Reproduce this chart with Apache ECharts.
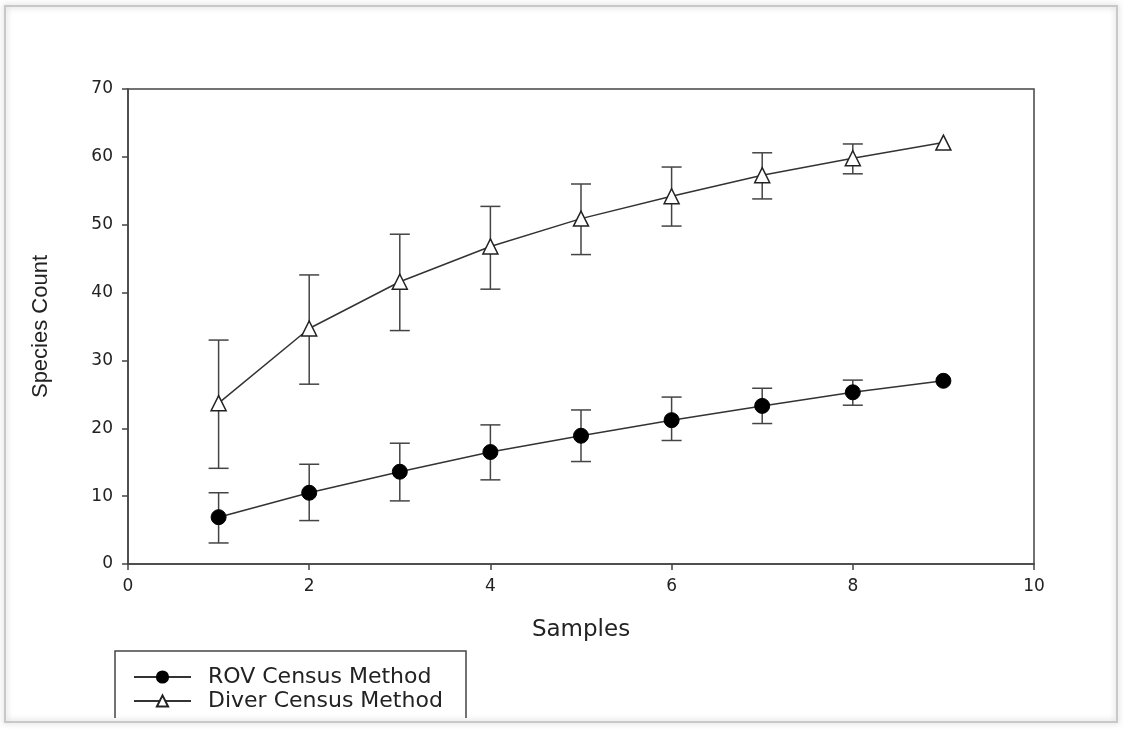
<!DOCTYPE html>
<html>
<head>
<meta charset="utf-8">
<script src="https://cdn.jsdelivr.net/npm/echarts@6/dist/echarts.min.js"></script>
<style>
  html, body { margin: 0; padding: 0; background: #fff; }
  #chart { width: 1123px; height: 737px; }
</style>
</head>
<body>
<div id="chart"></div>
<script>
// values
const samples = [1, 2, 3, 4, 5, 6, 7, 8, 9]
const rovMean = [6.9, 10.5, 13.6, 16.5, 18.9, 21.2, 23.3, 25.3, 27.0]
const rovLow = [3.1, 6.4, 9.3, 12.4, 15.1, 18.2, 20.7, 23.4, null]
const rovHigh = [10.5, 14.7, 17.8, 20.5, 22.7, 24.6, 25.9, 27.1, null]
const diverMean = [23.7, 34.7, 41.6, 46.8, 50.9, 54.2, 57.3, 59.8, 62.1]
const diverLow = [14.1, 26.5, 34.4, 40.5, 45.6, 49.8, 53.8, 57.5, null]
const diverHigh = [33.0, 42.6, 48.6, 52.7, 56.0, 58.5, 60.6, 61.9, null]
const yTicks = [0, 10, 20, 30, 40, 50, 60, 70]
const xTicks = [0, 2, 4, 6, 8, 10]

const pairs = (a) => samples.map((s, i) => [s, a[i]])
const errRows = (lo, hi) => samples
  .map((s, i) => [s, lo[i], hi[i]])
  .filter(r => r[1] != null)

const axisColor = '#444'
const wide = '"DejaVu Sans", "Liberation Sans", Arial, sans-serif'
const plain = '"Liberation Sans", Arial, sans-serif'

function errorBar(params, api) {
  const x = api.value(0)
  const lo = api.coord([x, api.value(1)])
  const hi = api.coord([x, api.value(2)])
  const cap = 10
  const style = { stroke: axisColor, lineWidth: 1.5 }
  return {
    type: 'group',
    children: [
      { type: 'line', shape: { x1: lo[0], y1: lo[1], x2: hi[0], y2: hi[1] }, style },
      { type: 'line', shape: { x1: lo[0] - cap, y1: lo[1], x2: lo[0] + cap, y2: lo[1] }, style },
      { type: 'line', shape: { x1: hi[0] - cap, y1: hi[1], x2: hi[0] + cap, y2: hi[1] }, style }
    ]
  }
}

const chart = echarts.init(document.getElementById('chart'), null, { renderer: 'canvas' })
chart.setOption({
  backgroundColor: '#fff',
  animation: false,
  grid: {
    left: 128,
    right: 89,
    top: 89,
    bottom: 173,
    show: true,
    borderColor: axisColor,
    borderWidth: 1.5
  },
  xAxis: {
    type: 'value',
    min: xTicks[0],
    max: xTicks[xTicks.length - 1],
    interval: 2,
    name: 'Samples',
    nameLocation: 'middle',
    nameGap: 55,
    nameTextStyle: { fontFamily: wide, fontSize: 23, color: '#222' },
    axisLine: { lineStyle: { color: axisColor, width: 1.5 } },
    axisTick: { show: true, inside: false, length: 6, lineStyle: { color: axisColor, width: 1.5 } },
    axisLabel: { fontFamily: wide, fontSize: 17, color: '#222', margin: 14 },
    splitLine: { show: false }
  },
  yAxis: {
    type: 'value',
    min: yTicks[0],
    max: yTicks[yTicks.length - 1],
    interval: 10,
    name: 'Species Count',
    nameLocation: 'middle',
    nameGap: 76,
    nameTextStyle: { fontFamily: plain, fontSize: 22, color: '#222' },
    axisLine: { show: true, lineStyle: { color: axisColor, width: 1.5 } },
    axisTick: { show: true, inside: false, length: 6, lineStyle: { color: axisColor, width: 1.5 } },
    axisLabel: { fontFamily: wide, fontSize: 17, color: '#222', margin: 15 },
    splitLine: { show: false }
  },
  legend: {
    orient: 'vertical',
    left: 133,
    top: 666,
    padding: 0,
    itemWidth: 57,
    itemHeight: 14,
    itemGap: 2,
    textStyle: { fontFamily: wide, fontSize: 22, lineHeight: 21, color: '#222', padding: [0, 0, 0, 12] },
    data: ['ROV Census Method', 'Diver Census Method']
  },
  graphic: [
    {
      type: 'rect',
      shape: { x: 5, y: 6, width: 1112, height: 716 },
      style: { fill: 'none', stroke: '#c8c8c8', lineWidth: 2, shadowBlur: 6, shadowColor: 'rgba(0,0,0,0.25)' },
      silent: true
    },
    {
      type: 'polyline',
      shape: { points: [[115, 718], [115, 651], [466, 651], [466, 718]] },
      style: { fill: 'none', stroke: axisColor, lineWidth: 1.5 },
      silent: true
    }
  ],
  series: [
    {
      name: 'ROV error',
      type: 'custom',
      renderItem: errorBar,
      data: errRows(rovLow, rovHigh),
      z: 1
    },
    {
      name: 'Diver error',
      type: 'custom',
      renderItem: errorBar,
      data: errRows(diverLow, diverHigh),
      z: 1
    },
    {
      name: 'ROV Census Method',
      type: 'line',
      data: pairs(rovMean),
      symbol: 'circle',
      symbolSize: 15,
      lineStyle: { color: '#333', width: 1.5 },
      itemStyle: { color: '#000', borderColor: '#000', borderWidth: 1 },
      z: 3
    },
    {
      name: 'Diver Census Method',
      type: 'line',
      data: pairs(diverMean),
      symbol: 'triangle',
      symbolSize: 15,
      lineStyle: { color: '#333', width: 1.5 },
      itemStyle: { color: '#fff', borderColor: '#222', borderWidth: 1.5 },
      z: 3
    }
  ]
})
</script>
</body>
</html>
